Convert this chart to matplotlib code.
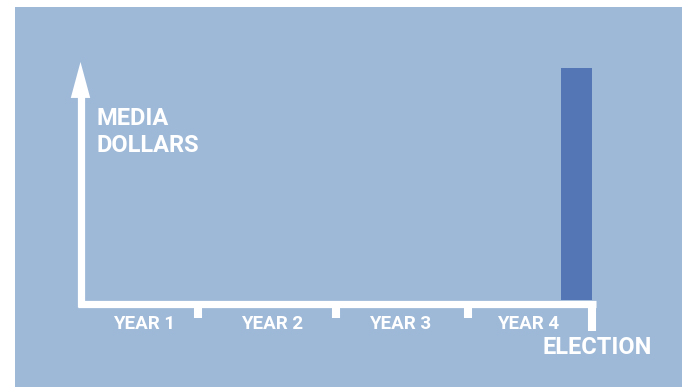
import matplotlib
matplotlib.use("Agg")
import matplotlib.pyplot as plt
from matplotlib.patches import Rectangle, Polygon

# data: spending only happens right before the election
years = ["YEAR 1", "YEAR 2", "YEAR 3", "YEAR 4"]
year_mid = [0.5, 1.5, 2.5, 3.5]
tick_pos = [0.92, 2.0, 3.03]     # year boundaries as drawn
election_pos = 4
spend_width = 0.266               # roughly the last quarter of year 4
spend_value = 1.0

BG = "#9eb9d8"
BAR = "#5576b4"
WHITE = "white"
fam = ["Roboto", "DejaVu Sans"]

fig = plt.figure(figsize=(6.82, 3.87), dpi=100)
fig.patch.set_facecolor("white")
fig.patches.append(Rectangle((15 / 682, 0), 1, (387 - 7) / 387,
                             transform=fig.transFigure, facecolor=BG,
                             edgecolor="none", zorder=-1))

W, H = 682, 387
ax = fig.add_axes([80.5 / W, (H - 300) / H, (592 - 80.5) / W, (300 - 68) / H])
ax.set_xlim(0, 4)
ax.set_ylim(0, 1)
ax.axis("off")

# the bar
ax.bar(election_pos + 0.023 - spend_width, spend_value, width=spend_width,
       align="edge", color=BAR, edgecolor="none", zorder=2)

lw = 5.2
dy = 3.5 / 232   # half line thickness in data units
# x axis line
ax.plot([-0.02, election_pos + 0.03], [-dy, -dy], color=WHITE, lw=lw,
        solid_capstyle="butt", clip_on=False, zorder=3)
# small ticks between years
for t in tick_pos:
    ax.plot([t, t], [-dy, -18 / 232], color=WHITE, lw=lw + 0.6,
            solid_capstyle="butt", clip_on=False, zorder=3)
# election tick
ax.plot([election_pos, election_pos], [-dy, -31 / 232], color=WHITE, lw=lw + 0.6,
        solid_capstyle="butt", clip_on=False, zorder=3)

# y arrow
ax.plot([0, 0], [-2 * dy, 0.88], color=WHITE, lw=lw, solid_capstyle="butt",
        clip_on=False, zorder=3)
ax.add_patch(Polygon([[-0.076, 0.871], [0.076, 0.871], [0, 1.026]], closed=True,
                     facecolor=WHITE, edgecolor="none", clip_on=False, zorder=3))

for x, lab in zip(year_mid, years):
    ax.text(x, -0.105, lab, color=WHITE, fontsize=13.5, fontweight="bold",
            family=fam, ha="center", va="center")

ax.text(election_pos + 0.043, -0.205, "ELECTION", color=WHITE, fontsize=17,
        fontweight="bold", family=fam, ha="center", va="center")

ax.text(0.129, 0.724, "MEDIA\nDOLLARS", color=WHITE, fontsize=17,
        fontweight="bold", family=fam, ha="left", va="center", linespacing=1.25)

fig.savefig("out.png", dpi=100, facecolor="white")
